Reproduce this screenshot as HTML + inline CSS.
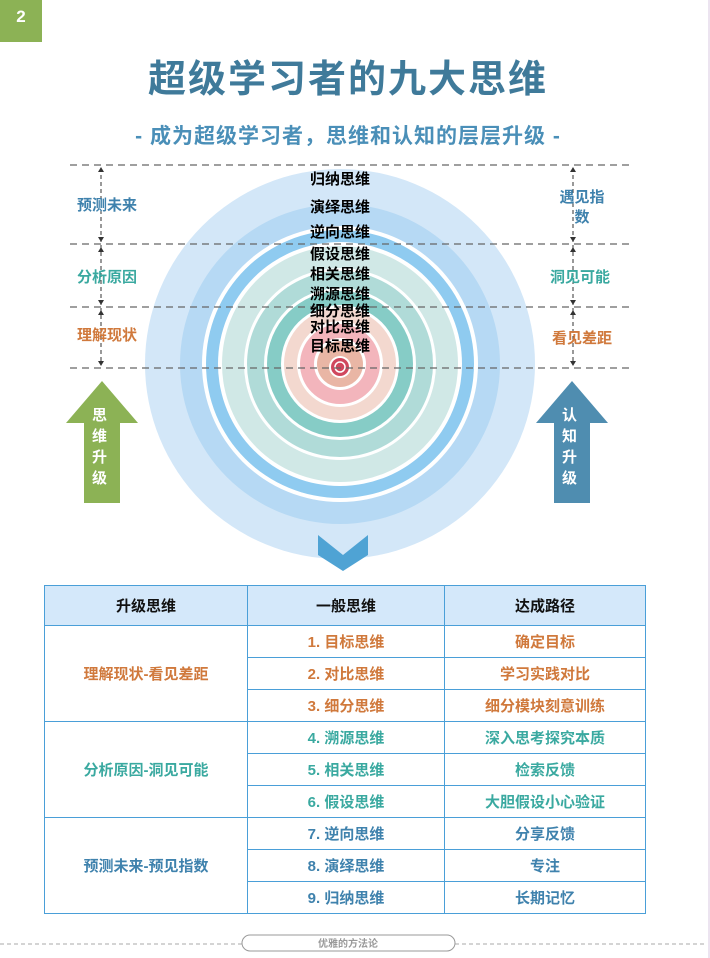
<!DOCTYPE html>
<html><head><meta charset="utf-8"><style>
body{margin:0;width:710px;height:958px;background:#fff;position:relative;overflow:hidden;font-family:"Liberation Sans","Noto Sans CJK SC",sans-serif;}
.a{position:absolute;white-space:nowrap}
table{position:absolute;left:44px;top:585px;border-collapse:collapse;width:602px;table-layout:fixed}
td{border:1.5px solid #4a9fd8;text-align:center;font-weight:bold;font-size:15px;padding:0;}
tr{height:32px}
th{border:1.5px solid #4a9fd8;background:#d4e8fa;font-size:15px;color:#111;padding:0}
.o{color:#d0793c}.t{color:#3aa9a0}.b{color:#3f82ad}
</style></head><body>
<div class="a" style="right:0;top:0;width:2px;height:958px;background:#ece4f0"></div>
<div class="a" style="left:0;top:0;width:42px;height:42px;background:#8cb255;color:#fff;font-weight:bold;font-size:17px;text-align:center;line-height:34px;">2</div>
<div class="a" style="left:0;width:696px;top:48px;text-align:center;font-size:38px;color:#3f7a9a;font-weight:bold;letter-spacing:2px">超级学习者的九大思维</div>
<div class="a" style="left:0;width:696px;top:120px;text-align:center;font-size:21px;color:#4a8fb8;font-weight:bold;letter-spacing:1px">- 成为超级学习者，思维和认知的层层升级 -</div>
<svg class="a" style="left:0;top:0" width="710" height="958">
<g>
<circle cx="340" cy="364" r="195" fill="#d3e7f8"/>
<circle cx="340" cy="364" r="160" fill="#b6d9f4"/>
<circle cx="340" cy="364" r="138" fill="#fff"/>
<circle cx="340" cy="364" r="134" fill="#8fcbf0"/>
<circle cx="340" cy="364" r="122" fill="#fff"/>
<circle cx="340" cy="364" r="118" fill="#d0e8e6"/>
<circle cx="340" cy="364" r="96" fill="#fff"/>
<circle cx="340" cy="364" r="93" fill="#b0dbd8"/>
<circle cx="340" cy="364" r="76" fill="#fff"/>
<circle cx="340" cy="364" r="73" fill="#86ccc6"/>
<circle cx="340" cy="364" r="59" fill="#fff"/>
<circle cx="340" cy="364" r="56" fill="#f3d8cf"/>
<circle cx="340" cy="364" r="43" fill="#fff"/>
<circle cx="340" cy="364" r="40" fill="#f3b5bc"/>
<circle cx="340" cy="364" r="26" fill="#fff"/>
<circle cx="340" cy="364" r="23" fill="#e9b6a5"/>
<circle cx="340" cy="367" r="11" fill="#fff"/>
<circle cx="340" cy="367" r="9" fill="#d0475e"/>
<circle cx="340" cy="367" r="5" fill="none" stroke="#fff" stroke-width="1.5"/>
</g>
<g stroke="#666" stroke-width="1.3" stroke-dasharray="7,5">
<line x1="70" y1="165" x2="630" y2="165"/><line x1="70" y1="244" x2="630" y2="244"/>
<line x1="70" y1="307" x2="630" y2="307"/><line x1="70" y1="368" x2="630" y2="368"/>
</g>
<g stroke="#333" stroke-width="1" stroke-dasharray="4,3">
<line x1="101" y1="168" x2="101" y2="365"/><line x1="573" y1="168" x2="573" y2="365"/>
</g>
<g fill="#333">
<path d="M101 167l-3 5h6z M101 242l-3-5h6z M101 247l-3 5h6z M101 305l-3-5h6z M101 310l-3 5h6z M101 366l-3-5h6z"/>
<path d="M573 167l-3 5h6z M573 242l-3-5h6z M573 247l-3 5h6z M573 305l-3-5h6z M573 310l-3 5h6z M573 366l-3-5h6z"/>
</g>
<path d="M102 381L66 423H84V503H120V423H138Z" fill="#8cb255"/>
<path d="M572 381L536 423H554V503H590V423H608Z" fill="#4f8db0"/>
<path d="M318 535L343 555L368 535V555L343 571L318 555Z" fill="#4fa3d4"/>
<g stroke="#aaa" stroke-width="1" stroke-dasharray="4,3"><line x1="0" y1="944" x2="242" y2="944"/><line x1="455" y1="944" x2="705" y2="944"/></g>
<rect x="242" y="935" width="213" height="16" rx="8" fill="#fff" stroke="#999"/>
</svg>
<div class="a" style="left:0;width:696px;top:935px;text-align:center;font-size:10px;color:#999;font-weight:bold">优雅的方法论</div>
<div class="a" style="left:310px;font-weight:bold;font-size:15px;color:#000;line-height:18px;">
<div class="a" style="top:171px">归纳思维</div><div class="a" style="top:199px">演绎思维</div><div class="a" style="top:224px">逆向思维</div><div class="a" style="top:246px">假设思维</div><div class="a" style="top:266px">相关思维</div><div class="a" style="top:286px">溯源思维</div><div class="a" style="top:303px">细分思维</div><div class="a" style="top:319px">对比思维</div><div class="a" style="top:338px">目标思维</div>
</div>
<div class="a b" style="left:77px;top:194px;font-size:15px;font-weight:bold">预测未来</div>
<div class="a t" style="left:77px;top:266px;font-size:15px;font-weight:bold">分析原因</div>
<div class="a o" style="left:77px;top:324px;font-size:15px;font-weight:bold">理解现状</div>
<div class="a b" style="left:557px;top:188px;font-size:15px;font-weight:bold;text-align:center;line-height:20px;width:50px;white-space:normal">遇见指数</div>
<div class="a t" style="left:550px;top:266px;font-size:15px;font-weight:bold">洞见可能</div>
<div class="a o" style="left:552px;top:327px;font-size:15px;font-weight:bold">看见差距</div>
<div class="a" style="left:92px;top:405px;width:20px;color:#fff;font-weight:bold;font-size:15px;line-height:21px;white-space:normal">思维升级</div>
<div class="a" style="left:562px;top:405px;width:20px;color:#fff;font-weight:bold;font-size:15px;line-height:21px;white-space:normal">认知升级</div>
<table>
<tr style="height:40px"><th style="width:202px">升级思维</th><th style="width:196px">一般思维</th><th>达成路径</th></tr>
<tr><td rowspan="3" class="o">理解现状-看见差距</td><td class="o">1. 目标思维</td><td class="o">确定目标</td></tr>
<tr><td class="o">2. 对比思维</td><td class="o">学习实践对比</td></tr>
<tr><td class="o">3. 细分思维</td><td class="o">细分模块刻意训练</td></tr>
<tr><td rowspan="3" class="t">分析原因-洞见可能</td><td class="t">4. 溯源思维</td><td class="t">深入思考探究本质</td></tr>
<tr><td class="t">5. 相关思维</td><td class="t">检索反馈</td></tr>
<tr><td class="t">6. 假设思维</td><td class="t">大胆假设小心验证</td></tr>
<tr><td rowspan="3" class="b">预测未来-预见指数</td><td class="b">7. 逆向思维</td><td class="b">分享反馈</td></tr>
<tr><td class="b">8. 演绎思维</td><td class="b">专注</td></tr>
<tr><td class="b">9. 归纳思维</td><td class="b">长期记忆</td></tr>
</table>
</body></html>
